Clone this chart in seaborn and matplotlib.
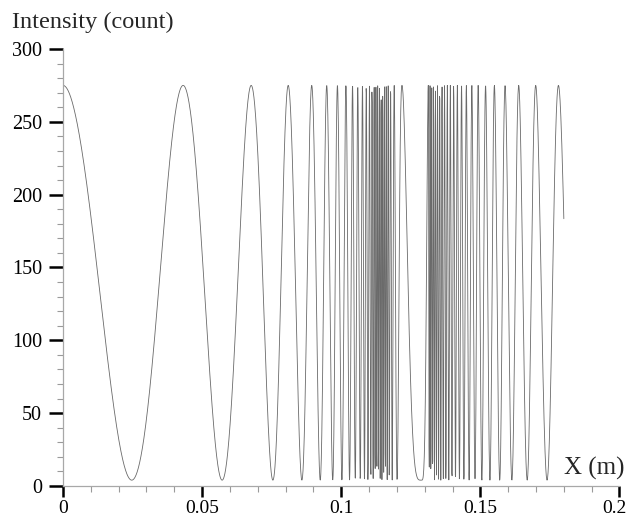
import numpy as np
import pandas as pd
import matplotlib
matplotlib.use("Agg")
import matplotlib.pyplot as plt
import matplotlib.transforms as mtransforms
from matplotlib.ticker import MultipleLocator, FixedLocator
import seaborn as sns

# ---- data ----
# positions (m) of successive extrema (max, min, max, ...) up to the broad turning trough
extrema_left_x = [0.0000, 0.02471, 0.04317, 0.05719, 0.06763, 0.07543, 0.08094, 0.08586,
                  0.08939, 0.09245, 0.09478, 0.09694, 0.09863, 0.10025, 0.10169, 0.10299,
                  0.10406, 0.10504, 0.10594, 0.10683, 0.10763, 0.10835, 0.10899, 0.10960,
                  0.11014, 0.11063, 0.11106, 0.11146, 0.11182, 0.11216, 0.11248, 0.11279,
                  0.11309, 0.11340, 0.11371, 0.11401, 0.11432, 0.11462, 0.11493, 0.11523,
                  0.11554, 0.11585, 0.11617, 0.11651, 0.11687, 0.11727, 0.11773, 0.11831,
                  0.11903, 0.12007, 0.12183, 0.12878]
# extrema after the turning trough (max, min, max, ...)
extrema_right_x = [0.13129, 0.13161, 0.13191, 0.13222, 0.13253, 0.13286, 0.13319, 0.13353,
                   0.13387, 0.13423, 0.13461, 0.13499, 0.13538, 0.13579, 0.13622, 0.13667,
                   0.13713, 0.13761, 0.13813, 0.13866, 0.13921, 0.13980, 0.14040, 0.14106,
                   0.14173, 0.14248, 0.14324, 0.14410, 0.14496, 0.14595, 0.14694, 0.14808,
                   0.14921, 0.15054, 0.15187, 0.15345, 0.15504, 0.15696, 0.15888, 0.16133,
                   0.16378, 0.16683, 0.16989, 0.17397, 0.17806, 0.18320]
intensity_max = 275.0
intensity_min = 4.0
x_end = 0.18
n_samples = 2000

x_ticks = [0, 0.05, 0.1, 0.15, 0.2]
x_ticklabels = ["0", "0.05", "0.1", "0.15", "0.2"]
y_ticks = [0, 50, 100, 150, 200, 250, 300]
y_ticklabels = ["0", "50", "100", "150", "200", "250", "300"]


def pchip(xk, yk, xq):
    xk = np.asarray(xk, float); yk = np.asarray(yk, float)
    h = np.diff(xk); d = np.diff(yk) / h
    m = np.zeros_like(yk)
    for k in range(1, len(xk) - 1):
        if d[k - 1] * d[k] > 0:
            w1 = 2 * h[k] + h[k - 1]; w2 = h[k] + 2 * h[k - 1]
            m[k] = (w1 + w2) / (w1 / d[k - 1] + w2 / d[k])
    m[0] = d[0]; m[-1] = d[-1]
    idx = np.clip(np.searchsorted(xk, xq) - 1, 0, len(xk) - 2)
    t = (xq - xk[idx]) / h[idx]
    h00 = 2 * t**3 - 3 * t**2 + 1; h10 = t**3 - 2 * t**2 + t
    h01 = -2 * t**3 + 3 * t**2; h11 = t**3 - t**2
    return h00 * yk[idx] + h10 * h[idx] * m[idx] + h01 * yk[idx + 1] + h11 * h[idx] * m[idx + 1]


n_left = len(extrema_left_x)
phase_left = np.arange(n_left) * np.pi
phase_right = (n_left - 2 - np.arange(len(extrema_right_x))) * np.pi
ext_x = np.concatenate([extrema_left_x, extrema_right_x])
ext_phase = np.concatenate([phase_left, phase_right])

xs = np.linspace(0, x_end, n_samples)
ph = pchip(ext_x, ext_phase, xs)
mid = (intensity_max + intensity_min) / 2
amp = (intensity_max - intensity_min) / 2
df = pd.DataFrame({"x": xs, "intensity": mid + amp * np.cos(ph)})

# ---- plotting ----
sns.set_style("ticks")
plt.rcParams["font.family"] = ["Liberation Serif", "DejaVu Serif"]

fig = plt.figure(figsize=(6.3, 5.21), dpi=100)
ax = fig.add_axes([0.1, 0.0672, 0.8833, 0.8388])
sns.lineplot(data=df, x="x", y="intensity", ax=ax, estimator=None, sort=False,
             color="#6a6a6a", linewidth=0.6)

ax.set_xlim(0, 0.2)
ax.set_ylim(0, 300)
ax.set_xlabel("")
ax.set_ylabel("")
ax.xaxis.set_major_locator(FixedLocator(x_ticks))
ax.set_xticklabels(x_ticklabels)
ax.yaxis.set_major_locator(FixedLocator(y_ticks))
ax.set_yticklabels(y_ticklabels)
ax.xaxis.set_minor_locator(MultipleLocator(0.01))
ax.yaxis.set_minor_locator(MultipleLocator(10))

for s in ["top", "right"]:
    ax.spines[s].set_visible(False)
for s in ["left", "bottom"]:
    ax.spines[s].set_color("#a8a8a8")
    ax.spines[s].set_linewidth(0.9)

ax.tick_params(axis="both", which="major", direction="out", width=1.8, color="black",
               labelsize=14, labelcolor="black")
ax.tick_params(axis="y", which="major", length=10, pad=5, labelsize=14.5)
ax.tick_params(axis="x", which="major", length=8, pad=2)
ax.tick_params(axis="both", which="minor", direction="out", width=0.8, color="#9a9a9a",
               length=4)

# nudge the last x label inward so it stays inside the canvas (as in the reference)
last_lbl = ax.get_xticklabels()[-1]
last_lbl.set_transform(last_lbl.get_transform() +
                       mtransforms.ScaledTranslation(-5 / 100, 0, fig.dpi_scale_trans))

fig.text(11.7 / 630, (521 - 28.3) / 521, "Intensity (count)", ha="left", va="baseline",
         fontsize=17.5)
fig.text(624 / 630, (521 - 475) / 521, "X (m)", ha="right", va="baseline", fontsize=18)

fig.savefig("out.png", dpi=100, facecolor="white")
